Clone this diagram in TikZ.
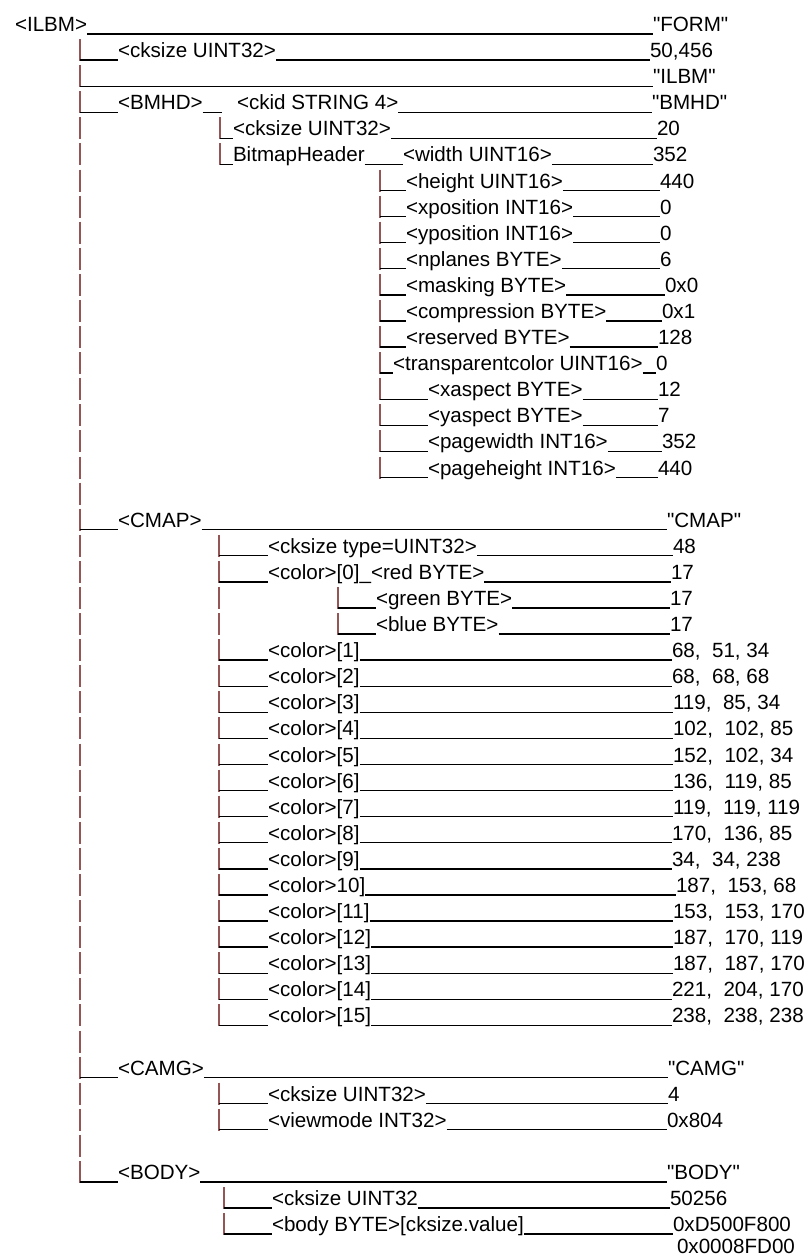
\documentclass[tikz,border=0pt]{standalone}
\usepackage{fontspec}
\setmainfont{Liberation Sans}[Ligatures=TeXOff]
\definecolor{pipecol}{RGB}{150,85,85}
\newcommand{\qd}{"}
\newcommand{\rowy}[1]{(31.5+26.09*(#1-1))}
\newcommand{\pipeat}[3]{%
  \coordinate (#1t) at (#2,{\rowy{#3}-18.5});
  \coordinate (#1b) at (#2,{\rowy{#3}+3.5});
  \draw[pipe] (#1t) -- (#1b);}
\newcommand{\stemrow}[5]{%
  \pipeat{#1p}{#3}{#2}
  \node[lab] (#1) at (#4,{\rowy{#2}}) {#5};
  \coordinate (#1c) at (#3,{\rowy{#2}+2.5});
  \draw[us] (#1c) -- (#1.base west |- #1c);}
\newcommand{\valnode}[4]{\node[lab] (#1) at (#3,{\rowy{#2}}) {#4};}
\newcommand{\ulink}[2]{\draw[us] ([yshift=-2.5pt]#1.base east) -- ([yshift=-2.5pt]#2.base west);}
\begin{document}
\begin{tikzpicture}[x=1pt,y=-1pt,
  lab/.style={anchor=base west,inner sep=0pt,outer sep=0pt,font=\fontsize{20.6}{24}\selectfont},
  us/.style={line width=1.35pt,black},
  pipe/.style={line width=1.6pt,pipecol}]
\fill[white] (0,0) rectangle (808,1257);
\useasboundingbox (0,0) rectangle (808,1257);
% row 1
\node[lab] (ilbm) at (15,{\rowy{1}}) {<ILBM>};
\valnode{form}{1}{653}{\qd FORM\qd}
\ulink{ilbm}{form}
% row 2
\stemrow{r2}{2}{80}{118}{<cksize UINT32>}
\valnode{r2v}{2}{650}{50,456}
\ulink{r2}{r2v}
% row 3
\pipeat{r3p}{80}{3}
\coordinate (r3c) at (80,{\rowy{3}+2.5});
\valnode{r3v}{3}{653}{\qd ILBM\qd}
\draw[us] (r3c) -- (r3v.base west |- r3c);
% row 4
\stemrow{r4}{4}{80}{118}{<BMHD>}
\coordinate (r4m) at (222,{\rowy{4}+2.5});
\draw[us] ([yshift=-2.5pt]r4.base east) -- (r4m);
\node[lab] (ckid) at (237,{\rowy{4}}) {<ckid STRING 4>};
\valnode{r4v}{4}{652}{\qd BMHD\qd}
\ulink{ckid}{r4v}
% row 5-6
\stemrow{r5}{5}{220}{233}{<cksize UINT32>}
\valnode{r5v}{5}{657}{20}
\ulink{r5}{r5v}
\stemrow{r6}{6}{220}{233}{BitmapHeader}
\node[lab] (width) at (403,{\rowy{6}}) {<width UINT16>};
\valnode{r6v}{6}{653}{352}
\ulink{r6}{width}
\ulink{width}{r6v}
% BitmapHeader fields
\stemrow{r7}{7}{380}{406}{<height UINT16>}\valnode{r7v}{7}{660}{440}\ulink{r7}{r7v}
\stemrow{r8}{8}{380}{406}{<xposition INT16>}\valnode{r8v}{8}{660}{0}\ulink{r8}{r8v}
\stemrow{r9}{9}{380}{406}{<yposition INT16>}\valnode{r9v}{9}{660}{0}\ulink{r9}{r9v}
\stemrow{r10}{10}{380}{406}{<nplanes BYTE>}\valnode{r10v}{10}{660}{6}\ulink{r10}{r10v}
\stemrow{r11}{11}{380}{406}{<masking BYTE>}\valnode{r11v}{11}{665}{0x0}\ulink{r11}{r11v}
\stemrow{r12}{12}{380}{406}{<compression BYTE>}\valnode{r12v}{12}{662}{0x1}\ulink{r12}{r12v}
\stemrow{r13}{13}{380}{406}{<reserved BYTE>}\valnode{r13v}{13}{658}{128}\ulink{r13}{r13v}
\stemrow{r14}{14}{380}{393}{<transparentcolor UINT16>}\valnode{r14v}{14}{656}{0}\ulink{r14}{r14v}
\stemrow{r15}{15}{380}{428}{<xaspect BYTE>}\valnode{r15v}{15}{658}{12}\ulink{r15}{r15v}
\stemrow{r16}{16}{380}{428}{<yaspect BYTE>}\valnode{r16v}{16}{658}{7}\ulink{r16}{r16v}
\stemrow{r17}{17}{380}{428}{<pagewidth INT16>}\valnode{r17v}{17}{662}{352}\ulink{r17}{r17v}
\stemrow{r18}{18}{380}{428}{<pageheight INT16>}\valnode{r18v}{18}{658}{440}\ulink{r18}{r18v}
\foreach \r in {5,...,19} {\pipeat{a\r}{80}{\r}}
% CMAP
\stemrow{r20}{20}{80}{118}{<CMAP>}\valnode{r20v}{20}{667}{\qd CMAP\qd}\ulink{r20}{r20v}
\stemrow{r21}{21}{219}{268}{<cksize type=UINT32>}\valnode{r21v}{21}{673}{48}\ulink{r21}{r21v}
\stemrow{r22}{22}{219}{268}{<color>[0]\_<red BYTE>}\valnode{r22v}{22}{671}{17}\ulink{r22}{r22v}
\pipeat{b23}{219}{23}\pipeat{b24}{219}{24}
\stemrow{r23}{23}{338}{376}{<green BYTE>}\valnode{r23v}{23}{670}{17}\ulink{r23}{r23v}
\stemrow{r24}{24}{338}{376}{<blue BYTE>}\valnode{r24v}{24}{670}{17}\ulink{r24}{r24v}
\stemrow{r25}{25}{219}{268}{<color>[1]}\valnode{r25v}{25}{672}{68,~~51, 34}\ulink{r25}{r25v}
\stemrow{r26}{26}{219}{268}{<color>[2]}\valnode{r26v}{26}{672}{68,~~68, 68}\ulink{r26}{r26v}
\stemrow{r27}{27}{219}{268}{<color>[3]}\valnode{r27v}{27}{673}{119,~~85, 34}\ulink{r27}{r27v}
\stemrow{r28}{28}{219}{268}{<color>[4]}\valnode{r28v}{28}{673}{102,~~102, 85}\ulink{r28}{r28v}
\stemrow{r29}{29}{219}{268}{<color>[5]}\valnode{r29v}{29}{673}{152,~~102, 34}\ulink{r29}{r29v}
\stemrow{r30}{30}{219}{268}{<color>[6]}\valnode{r30v}{30}{673}{136,~~119, 85}\ulink{r30}{r30v}
\stemrow{r31}{31}{219}{268}{<color>[7]}\valnode{r31v}{31}{673}{119,~~119, 119}\ulink{r31}{r31v}
\stemrow{r32}{32}{219}{268}{<color>[8]}\valnode{r32v}{32}{672}{170,~~136, 85}\ulink{r32}{r32v}
\stemrow{r33}{33}{219}{268}{<color>[9]}\valnode{r33v}{33}{672}{34,~~34, 238}\ulink{r33}{r33v}
\stemrow{r34}{34}{219}{268}{<color>10]}\valnode{r34v}{34}{676}{187,~~153, 68}\ulink{r34}{r34v}
\stemrow{r35}{35}{219}{268}{<color>[11]}\valnode{r35v}{35}{673}{153,~~153, 170}\ulink{r35}{r35v}
\stemrow{r36}{36}{219}{268}{<color>[12]}\valnode{r36v}{36}{673}{187,~~170, 119}\ulink{r36}{r36v}
\stemrow{r37}{37}{219}{268}{<color>[13]}\valnode{r37v}{37}{673}{187,~~187, 170}\ulink{r37}{r37v}
\stemrow{r38}{38}{219}{268}{<color>[14]}\valnode{r38v}{38}{672}{221,~~204, 170}\ulink{r38}{r38v}
\stemrow{r39}{39}{219}{268}{<color>[15]}\valnode{r39v}{39}{672}{238,~~238, 238}\ulink{r39}{r39v}
\foreach \r in {21,...,40} {\pipeat{c\r}{80}{\r}}
% CAMG
\stemrow{r41}{41}{80}{118}{<CAMG>}\valnode{r41v}{41}{668}{\qd CAMG\qd}\ulink{r41}{r41v}
\stemrow{r42}{42}{219}{268}{<cksize UINT32>}\valnode{r42v}{42}{668}{4}\ulink{r42}{r42v}
\stemrow{r43}{43}{219}{268}{<viewmode INT32>}\valnode{r43v}{43}{667}{0x804}\ulink{r43}{r43v}
\foreach \r in {42,...,44} {\pipeat{d\r}{80}{\r}}
% BODY
\stemrow{r45}{45}{80}{118}{<BODY>}\valnode{r45v}{45}{667}{\qd BODY\qd}\ulink{r45}{r45v}
\stemrow{r46}{46}{224}{272}{<cksize UINT32}\valnode{r46v}{46}{670}{50256}\ulink{r46}{r46v}
\stemrow{r47}{47}{224}{272}{<body BYTE>[cksize.value]}\valnode{r47v}{47}{673}{0xD500F800}\ulink{r47}{r47v}
\node[lab] (r48v) at (677,1253) {0x0008FD00};
\end{tikzpicture}
\end{document}
